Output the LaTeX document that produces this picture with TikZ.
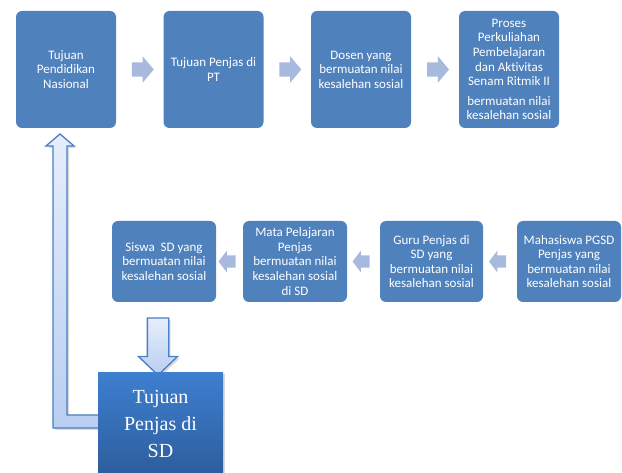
\documentclass[tikz,border=0pt]{standalone}
\usepackage{fontspec}
\setmainfont{Carlito}[Ligatures=NoCommon]
\newfontfamily\sdfont{Liberation Serif}
\usetikzlibrary{positioning,calc,shapes.arrows,shadows}

\definecolor{boxblue}{HTML}{4F81BD}
\definecolor{flowblue}{HTML}{A7BADE}
\definecolor{lineblue}{HTML}{4A7EC2}
\definecolor{palehigh}{HTML}{E6EEFC}
\definecolor{palelow}{HTML}{B9CEF1}
\definecolor{sdhigh}{HTML}{3E7FD0}
\definecolor{sdlow}{HTML}{2C5D9C}

\begin{document}
\begin{tikzpicture}[x=1pt,y=-1pt,
		stagebox/.style={fill=boxblue, rounded corners=6pt, text=white, align=center,
			inner sep=0pt, font=\fontsize{13}{14.6}\selectfont},
		topbox/.style={stagebox, minimum width=100pt, minimum height=117pt},
		lowbox/.style={stagebox, minimum width=104pt, minimum height=81pt},
		toparrow/.style={single arrow, fill=flowblue, inner sep=7pt, minimum height=22pt,
			single arrow head extend=6pt, single arrow tip angle=100},
		lowarrow/.style={single arrow, fill=flowblue, inner sep=6pt, minimum height=16pt,
			single arrow head extend=4.5pt, single arrow tip angle=105,
			shape border rotate=180},
		bigarrow/.style={draw=lineblue, line width=1.3pt, top color=palehigh, bottom color=palelow,
			drop shadow={opacity=0.3, shadow xshift=2pt, shadow yshift=-2pt}}]
		\clip (0,0) rectangle (622,473);
		
		% Top row
		\node[topbox] (nasional) at (66,69.5) {Tujuan\\Pendidikan\\Nasional};
		\node[topbox] (pt) at (213.5,69.5) {Tujuan Penjas di\\PT};
		\node[topbox] (dosen) at (361,69.5) {Dosen yang\\bermuatan nilai\\kesalehan sosial};
		\node[topbox] (proses) at (509,69.5) {Proses\\Perkuliahan\\Pembelajaran\\dan Aktivitas\\Senam Ritmik II\\[5pt]bermuatan nilai\\kesalehan sosial};
		
		% Arrows of the top row
		\node[toparrow] at ($(nasional.east)!0.5!(pt.west)$) {};
		\node[toparrow] at ($(pt.east)!0.5!(dosen.west)$) {};
		\node[toparrow] at ($(dosen.east)!0.5!(proses.west)$) {};
		
		% Bottom row
		\node[lowbox] (siswa) at (164,261.5) {Siswa\ \ SD yang\\bermuatan nilai\\kesalehan sosial};
		\node[lowbox] (mapel) at (295,261.5) {Mata Pelajaran\\Penjas\\bermuatan nilai\\kesalehan sosial\\di SD};
		\node[lowbox, minimum width=103pt] (guru) at (431.5,261.5) {Guru Penjas di\\SD yang\\bermuatan nilai\\kesalehan sosial};
		\node[lowbox] (mahasiswa) at (569,261.5) {Mahasiswa PGSD\\Penjas yang\\bermuatan nilai\\kesalehan sosial};
		
		% Arrows of the bottom row
		\node[lowarrow] at ($(siswa.east)!0.5!(mapel.west)$) {};
		\node[lowarrow] at ($(mapel.east)!0.5!(guru.west)$) {};
		\node[lowarrow] at ($(guru.east)!0.5!(mahasiswa.west)$) {};
		
		% Goal box and its arrows
		\coordinate (bendtop) at (60,134);
		\draw[bigarrow] (105,415) -- (67,415) -- (67,146) -- (74,146) -- (bendtop)
			-- (46,146) -- (53,146) -- (53,428) -- (105,428) -- cycle;
		\node[single arrow, bigarrow, shape border rotate=270, inner sep=10pt, minimum height=57pt,
			single arrow head extend=9pt, single arrow tip angle=93] (down) at (158,341.5) {};
		\node[top color=sdhigh, bottom color=sdlow, text=white,
			minimum width=125pt, minimum height=104pt, inner sep=0pt, anchor=north,
			font=\sdfont\fontsize{20}{27}\selectfont, align=center,
			drop shadow={opacity=0.3, shadow xshift=2pt, shadow yshift=-2pt}] (sd) at (160.5,372)
			{Tujuan\\Penjas di\\SD};
	\end{tikzpicture}
\end{document}
